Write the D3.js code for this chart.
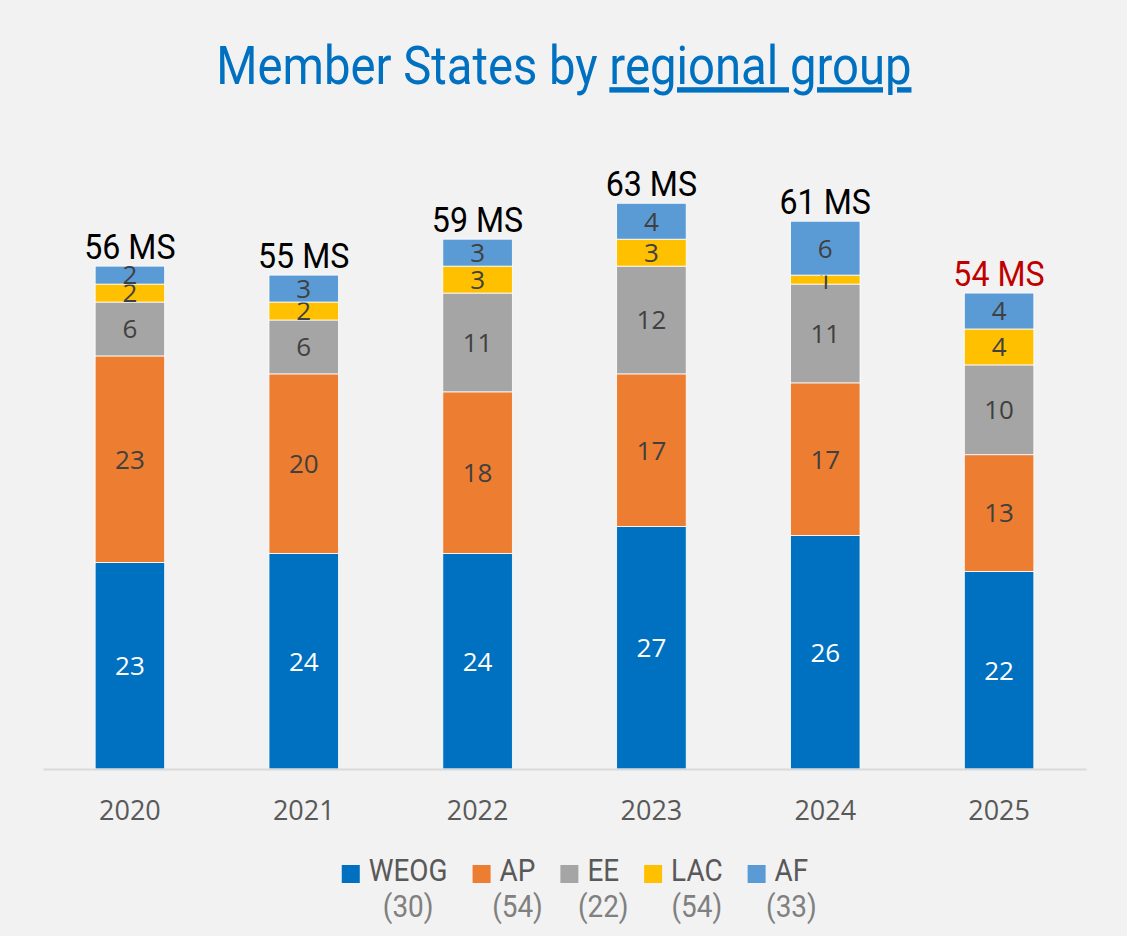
<!DOCTYPE html>
<html>
<head>
  <meta charset="utf-8">
  <title>Member States by regional group</title>
  <script src="https://d3js.org/d3.v7.min.js"></script>
  <style>
    html, body { margin: 0; padding: 0; background: #f2f2f2; }
    svg { display: block; }
  </style>
</head>
<body>
  <svg width="1127" height="936"></svg>
  <script>
    const years = ["2020", "2021", "2022", "2023", "2024", "2025"];
    const groups = ["WEOG", "AP", "EE", "LAC", "AF"];
    const groupCounts = ["(30)", "(54)", "(22)", "(54)", "(33)"];
    const colors = ["#0070c0", "#ed7d31", "#a5a5a5", "#ffc000", "#5b9bd5"];

    const weog = [23, 24, 24, 27, 26, 22];
    const ap   = [23, 20, 18, 17, 17, 13];
    const ee   = [6, 6, 11, 12, 11, 10];
    const lac  = [2, 2, 3, 3, 1, 4];
    const af   = [2, 3, 3, 4, 6, 4];
    const totalLabels = ["56 MS", "55 MS", "59 MS", "63 MS", "61 MS", "54 MS"];

    const series = [weog, ap, ee, lac, af];
    const rows = years.map((y, i) => {
      const r = { year: y, total: totalLabels[i] };
      groups.forEach((g, k) => r[g] = series[k][i]);
      return r;
    });

    const svg = d3.select("svg");
    const W = 1127, H = 936;
    svg.append("rect").attr("width", W).attr("height", H).attr("fill", "#f2f2f2");

    const condensed = "Roboto, 'Liberation Sans', sans-serif";
    const body = "'Open Sans', 'Liberation Sans', sans-serif";

    // squeeze a text horizontally so it looks like a condensed face
    function squeeze(sel, factor, anchorX, y, align) {
      sel.each(function() {
        const t = d3.select(this);
        const w = this.getComputedTextLength();
        const sw = w * factor;
        let x0 = anchorX;
        if (align === "middle") x0 = anchorX - sw / 2;
        if (align === "end") x0 = anchorX - sw;
        t.attr("x", 0).attr("y", 0).attr("text-anchor", "start")
         .attr("transform", `translate(${x0},${y}) scale(${factor},1)`);
      });
    }

    // title
    const title = svg.append("text")
      .attr("font-family", condensed)
      .attr("font-size", 54)
      .attr("fill", "#0070c0");
    title.append("tspan").text("Member States by ");
    title.append("tspan").attr("text-decoration", "underline").text("regional group");
    squeeze(title, 0.875, 564, 84, "middle");

    const x = d3.scaleBand().domain(years).range([43, 1086]).paddingInner(0.6).paddingOuter(0.3);
    const y = d3.scaleLinear().domain([0, 70]).range([769, 769 - 70 * 8.98]);

    const stacked = d3.stack().keys(groups)(rows);

    const layers = svg.append("g").selectAll("g")
      .data(stacked).join("g")
      .attr("fill", (d, i) => colors[i]);

    layers.selectAll("rect")
      .data(d => d)
      .join("rect")
      .attr("x", d => x(d.data.year))
      .attr("y", d => y(d[1]))
      .attr("width", x.bandwidth())
      .attr("height", d => y(d[0]) - y(d[1]))
      .attr("stroke", "#ffffff")
      .attr("stroke-width", 0.8);

    // segment labels
    layers.each(function(layer, i) {
      d3.select(this).selectAll("text")
        .data(layer)
        .join("text")
        .attr("x", d => x(d.data.year) + x.bandwidth() / 2)
        .attr("y", d => (y(d[0]) + y(d[1])) / 2)
        .attr("dy", "0.36em")
        .attr("text-anchor", "middle")
        .attr("font-family", body)
        .attr("font-size", 26)
        .attr("fill", i === 0 ? "#ffffff" : "#404040")
        .text(d => d[1] - d[0]);
    });

    // axis
    const axis = svg.append("g")
      .attr("transform", "translate(0,769)")
      .call(d3.axisBottom(x).tickSize(0).tickPadding(0));
    axis.select(".domain").attr("stroke", "#d9d9d9").attr("stroke-width", 2);
    axis.selectAll(".tick text")
      .attr("y", 51)
      .attr("dy", 0)
      .attr("font-family", body)
      .attr("font-size", 27)
      .attr("fill", "#595959");

    // totals
    const topLayer = stacked[stacked.length - 1];
    svg.append("g").selectAll("text")
      .data(topLayer)
      .join("text")
      .attr("font-family", condensed)
      .attr("font-size", 35)
      .attr("fill", (d, i) => i === years.length - 1 ? "#c00000" : "#000000")
      .text(d => d.data.total)
      .each(function(d) {
        squeeze(d3.select(this), 0.92, x(d.data.year) + x.bandwidth() / 2, y(d[1]) - 7, "middle");
      });

    // legend
    const legend = svg.append("g");
    const items = legend.selectAll("g").data(groups).join("g");
    items.append("rect")
      .attr("width", 18).attr("height", 18)
      .attr("y", 865)
      .attr("fill", (d, i) => colors[i]);
    items.append("text")
      .attr("class", "name")
      .attr("font-family", condensed)
      .attr("font-size", 31)
      .attr("fill", "#595959")
      .text(d => d);
    items.append("text")
      .attr("class", "count")
      .attr("font-family", condensed)
      .attr("font-size", 31)
      .attr("fill", "#808080")
      .text((d, i) => groupCounts[i]);

    const f = 0.9;
    let cx = 0;
    const layout = [];
    items.each(function() {
      const w = d3.select(this).select(".name").node().getComputedTextLength() * f;
      layout.push({ x: cx, w: w });
      cx += 18 + 9 + w + 25;
    });
    const totalW = cx - 25;
    const startX = 575 - totalW / 2;
    items.each(function(d, i) {
      const g = d3.select(this);
      const lx = startX + layout[i].x;
      g.select("rect").attr("x", lx);
      squeeze(g.select(".name"), f, lx + 27, 881, "start");
      squeeze(g.select(".count"), f, lx + 27 + layout[i].w / 2, 917, "middle");
    });
  </script>
</body>
</html>
